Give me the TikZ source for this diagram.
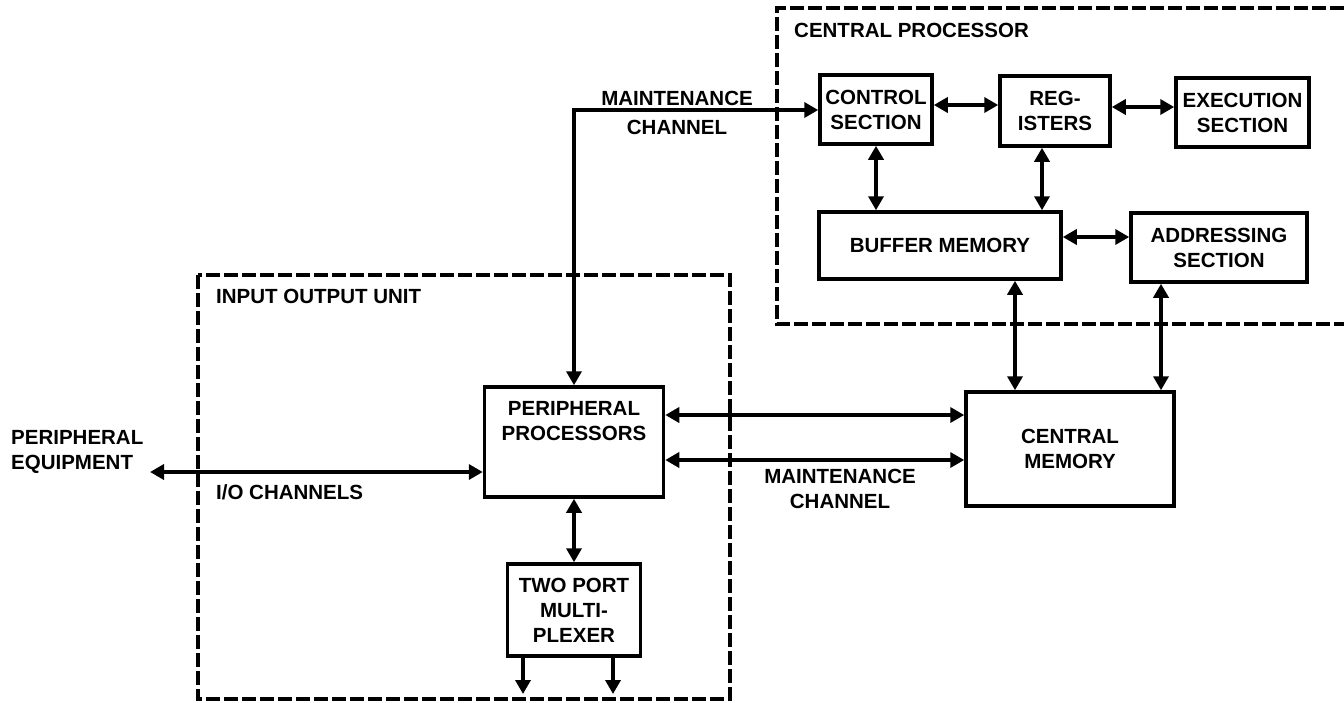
\documentclass[tikz,border=0pt]{standalone}
\usepackage{fontspec}
\newfontfamily\labfont{Liberation Sans Bold}
\usetikzlibrary{arrows.meta}
\begin{document}
\begin{tikzpicture}[x=1pt,y=-1pt,
  >={Triangle[length=14pt,width=15pt]},
  lab/.style={font=\labfont\fontsize{20.5pt}{25pt}\selectfont, align=center, inner sep=0pt},
  box/.style={draw, line width=3.5pt, inner sep=0pt, font=\labfont\fontsize{20.5pt}{25pt}\selectfont, align=center},
  arr/.style={<->, line width=3.5pt},
  one/.style={->, line width=3.5pt},
  grp/.style={line width=4pt, dash pattern=on 14pt off 4pt}]
\useasboundingbox (0,0) rectangle (1344,702);
% group frames
\draw[grp] (1344,8) -- (777,8) -- (777,324) -- (1344,324);
\draw[grp] (198,275) rectangle (730,699);
\node[lab, anchor=base west] (cpt) at (794,37) {CENTRAL PROCESSOR};
\node[lab, anchor=base west] (iot) at (216,303) {INPUT OUTPUT UNIT};
% boxes
\node[box, minimum width=112pt, minimum height=69pt] (cs) at (876,109.5) {CONTROL\\SECTION};
\node[box, minimum width=110pt, minimum height=70pt] (reg) at (1055,111) {REG-\\ISTERS};
\node[box, minimum width=133pt, minimum height=69pt] (ex) at (1242.5,112.5) {EXECUTION\\SECTION};
\node[box, minimum width=242pt, minimum height=67pt] (bm) at (940,245.5) {BUFFER MEMORY};
\node[box, minimum width=176pt, minimum height=69pt] (as) at (1219,247.5) {ADDRESSING\\SECTION};
\node[box, minimum width=208pt, minimum height=114pt] (cm) at (1070,449) {CENTRAL\\MEMORY};
\node[box, minimum width=179pt, minimum height=110pt] (pp) at (574,442) {};
\node[lab] (ppt) at (574,421) {PERIPHERAL\\PROCESSORS};
\node[box, minimum width=133pt, minimum height=92pt] (tp) at (574,610) {TWO PORT\\MULTI-\\PLEXER};
% helper coordinates
\coordinate (y105) at (0,105);
\coordinate (y107) at (0,107);
\coordinate (y237) at (0,237);
\coordinate (y415) at (0,415);
\coordinate (y460) at (0,460);
\coordinate (y472) at (0,472);
\coordinate (x1015) at (1015,0);
\coordinate (x1042) at (1042,0);
\coordinate (x1161) at (1161,0);
\coordinate (mcc) at (574,110);
\coordinate (pe) at (150,472);
\coordinate (o1) at (523,694);
\coordinate (o2) at (613,694);
% connectors inside central processor
\draw[arr] (cs.east |- y105) -- (reg.west |- y105);
\draw[arr] (reg.east |- y107) -- (ex.west |- y107);
\draw[arr] (cs.south) -- (cs.south |- bm.north);
\draw[arr] (reg.south -| x1042) -- (bm.north -| x1042);
\draw[arr] (bm.east |- y237) -- (as.west |- y237);
\draw[arr] (bm.south -| x1015) -- (cm.north -| x1015);
\draw[arr] (as.south -| x1161) -- (cm.north -| x1161);
% maintenance channel (top)
\draw[line width=3.5pt, <->] (cs.west |- mcc) -- (mcc) -- (pp.north);
\node[lab] (mc1) at (677,98.5) {MAINTENANCE};
\node[lab] (mc2) at (677,127.5) {CHANNEL};
% peripheral processors links
\draw[arr] (pp.east |- y415) -- (cm.west |- y415);
\draw[arr] (pp.east |- y460) -- (cm.west |- y460);
\node[lab] (mc3) at (840,489) {MAINTENANCE\\CHANNEL};
\draw[arr] (pe) -- (pp.west |- y472);
\node[lab, align=left, anchor=base west] (pet) at (11,469) {PERIPHERAL\\EQUIPMENT};
\node[lab, anchor=base west] (ioc) at (216,499) {I/O CHANNELS};
\draw[arr] (pp.south) -- (tp.north);
\draw[one] (tp.south -| o1) -- (o1);
\draw[one] (tp.south -| o2) -- (o2);
\end{tikzpicture}
\end{document}
